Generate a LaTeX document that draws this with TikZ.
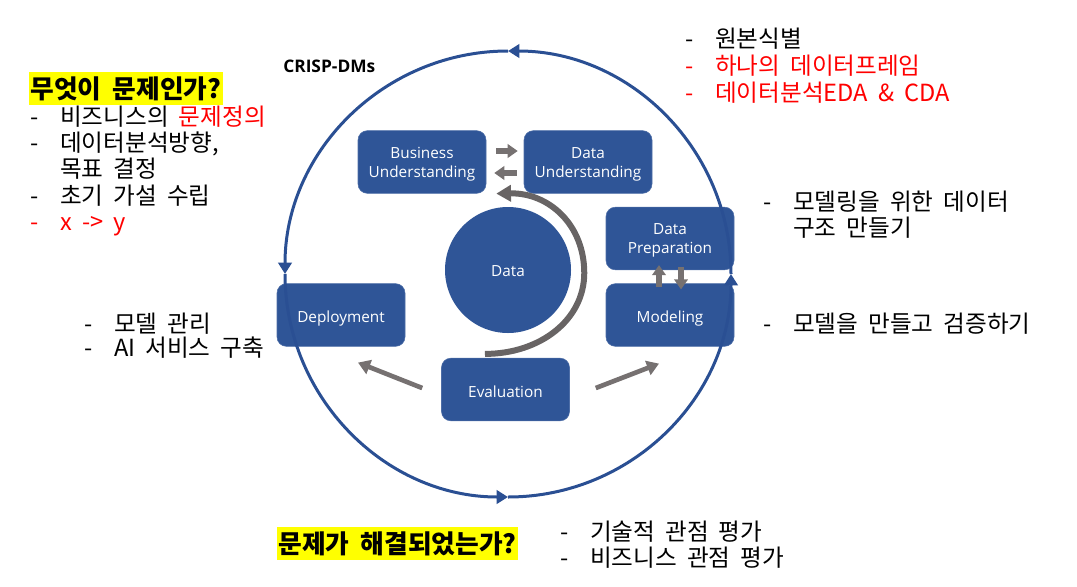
\documentclass[tikz,border=0pt]{standalone}
\usepackage{fontspec}
\setmainfont{Open Sans}
\newfontfamily\krfont[WordSpace=1.9]{Noto Sans CJK KR}
\usetikzlibrary{shapes, arrows.meta, positioning}
\newlength{\w}
\setlength{\w}{96pt}
\newlength{\h}
\setlength{\h}{47pt}
\definecolor{stagecolor}{HTML}{2F5597}
\definecolor{cyclecolor}{HTML}{2A4F93}
\definecolor{arrowcolor}{HTML}{767171}
\definecolor{loopcolor}{HTML}{686464}
\definecolor{notered}{HTML}{FF0000}
\definecolor{marker}{HTML}{FFFF00}
\newcommand{\itemdash}{\makebox[22.5pt][l]{-}}
\tikzset{stagebox/.style={fill=stagecolor, draw=stagecolor!85!white, line width=0.4pt, rounded corners=7pt, text=white, minimum width=\w, minimum height=\h, align=center, text height=11.5pt, text depth=0pt, font=\fontsize{11.5}{14.5}\selectfont}}
\tikzset{twoline/.style={text height=24pt, text depth=0.8pt}}
\tikzset{datacircle/.style={circle, fill=stagecolor, text=white, minimum size=94.5pt, inner sep=0pt, text height=10pt, text depth=0pt, font=\fontsize{11.5}{14}\selectfont}}
\tikzset{blockarrow/.style={draw=arrowcolor, line width=5pt, -{Triangle[length=7.5pt,width=10pt]}}}
\tikzset{flowarrow/.style={draw=arrowcolor, line width=3.5pt, -{Triangle[length=9pt,width=11pt]}}}
\tikzset{looparrow/.style={draw=loopcolor, line width=4.5pt, -{Triangle[length=11pt,width=12pt]}}}
\tikzset{cyclearc/.style={draw=cyclecolor, line width=2.25pt, -{Triangle[length=8.5pt,width=10pt]}}}
\tikzset{note/.style={anchor=base west, inner sep=0pt, font=\krfont\fontsize{17.7}{20}\selectfont}}
\tikzset{heading/.style={anchor=base west, fill=marker, inner xsep=1pt, inner ysep=3pt, font=\krfont\bfseries\fontsize{19.3}{22}\selectfont}}

\begin{document}
\begin{tikzpicture}[x=0.75pt, y=-0.75pt]
	\useasboundingbox (0,0) rectangle (1077,586);
	
	%%% NODES %%%
	
	% STAGES
	\node[stagebox, twoline] at (422,162) (business) {Business\\Understanding};
	\node[stagebox, twoline] at (588,162) (understanding) {Data\\Understanding};
	\node[stagebox, twoline] at (670,238.5) (preparation) {Data\\Preparation};
	\node[stagebox] at (670,315) (modeling) {Modeling};
	\node[stagebox] at (505.5,389.5) (evaluation) {Evaluation};
	\node[stagebox] at (341,315) (deployment) {Deployment};
	\node[datacircle] at (508,270) (data) {Data};
	
	% TITLE
	\node[anchor=base west, inner sep=0pt, font=\bfseries\fontsize{13}{15}\selectfont] at (283,72) (title) {CRISP-DMs};
	
	% BUSINESS NOTES
	\node[heading] at (29,98) (askproblem) {무엇이 문제인가?};
	\node[note] at (30,125) (bu1) {\itemdash 비즈니스의 \textcolor{notered}{문제정의}};
	\node[note] at (30,151) (bu2) {\itemdash 데이터분석방향,};
	\node[note] at (30,177) (bu3) {\hspace{22.5pt}목표 결정};
	\node[note] at (30,204) (bu4) {\itemdash 초기 가설 수립};
	\node[note, text=notered] at (30,230) (bu5) {\itemdash x -> y};
	
	% DATA NOTES
	\node[note] at (685,47) (du1) {\itemdash 원본식별};
	\node[note, text=notered] at (685,74) (du2) {\itemdash 하나의 데이터프레임};
	\node[note, text=notered] at (685,101) (du3) {\itemdash 데이터분석EDA \& CDA};
	
	% PREPARATION AND MODELING NOTES
	\node[note] at (763,210) (dp1) {\itemdash 모델링을 위한 데이터};
	\node[note] at (763,236) (dp2) {\hspace{22.5pt}구조 만들기};
	\node[note] at (763,332) (mo1) {\itemdash 모델을 만들고 검증하기};
	
	% DEPLOYMENT NOTES
	\node[note] at (84,332) (de1) {\itemdash 모델 관리};
	\node[note] at (84,356) (de2) {\itemdash AI 서비스 구축};
	
	% EVALUATION NOTES
	\node[heading] at (277,553) (asksolved) {문제가 해결되었는가?};
	\node[note] at (560,540) (ev1) {\itemdash 기술적 관점 평가};
	\node[note] at (560,566) (ev2) {\itemdash 비즈니스 관점 평가};
	
	%%% ARROWS %%%
	
	% OUTER CYCLE
	\coordinate (cycle) at (508,274);
	\foreach \a in {0,-90,-180,-270}
		\draw[cyclearc] ([shift={(\a:223)}]cycle) arc[start angle=\a, end angle=\a-90, radius=223];
	
	% STAGE ARROWS
	\draw[blockarrow, shorten <=7.5pt, shorten >=4.5pt] ([yshift=8.25pt]business.east) -- ([yshift=8.25pt]understanding.west);
	\draw[blockarrow, shorten <=5.25pt, shorten >=6pt] ([yshift=-8.25pt]understanding.west) -- ([yshift=-8.25pt]business.east);
	\draw[blockarrow, shorten <=-3pt, shorten >=-3.75pt] ([xshift=-8.25pt]modeling.north) -- ([xshift=-8.25pt]preparation.south);
	\draw[blockarrow, shorten <=-2.25pt, shorten >=-4.5pt] ([xshift=8.25pt]preparation.south) -- ([xshift=8.25pt]modeling.north);
	\draw[flowarrow] ([xshift=19.5pt,yshift=1.1pt]evaluation.east) -- ([xshift=-8.25pt,yshift=-12.75pt]modeling.south);
	\draw[flowarrow] ([xshift=-14.25pt,yshift=1.1pt]evaluation.west) -- ([xshift=12.75pt,yshift=-12pt]deployment.south);
	\draw[looparrow] ([xshift=-15.4pt,yshift=3pt]evaluation.north) .. controls +(55,0) and +(0,47) .. ([xshift=9.75pt,yshift=-2.25pt]data.east) .. controls +(0,-48) and +(53,-1) .. ([xshift=7.5pt]business.south east);
	
\end{tikzpicture}
\end{document}
